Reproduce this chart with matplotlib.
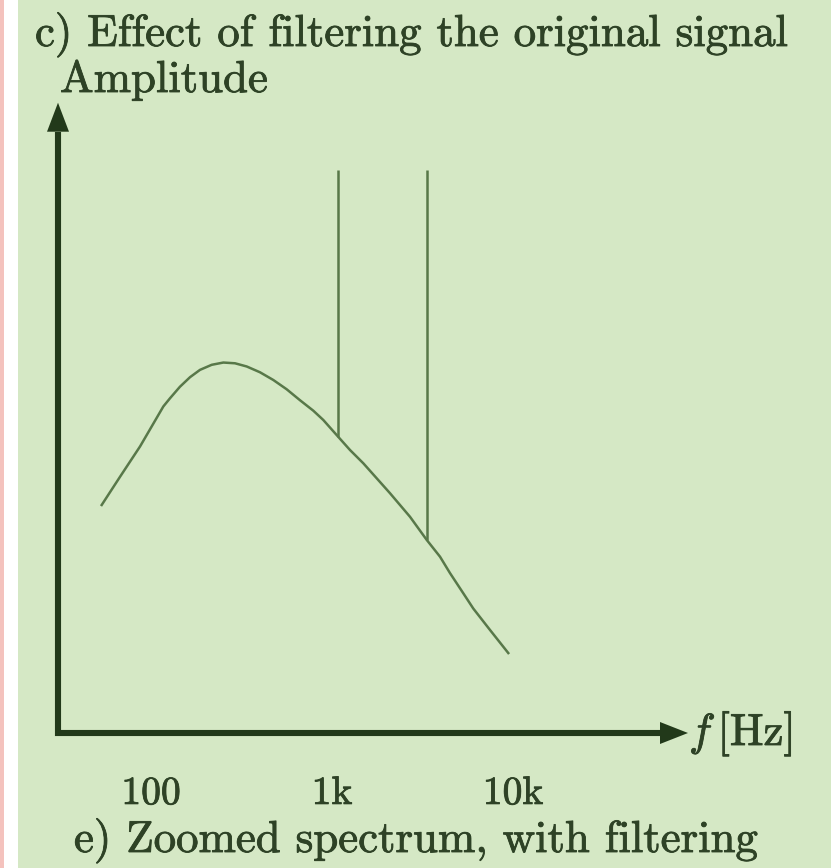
import numpy as np
import matplotlib
matplotlib.use('Agg')
import matplotlib.pyplot as plt
from matplotlib.patches import Polygon, Rectangle
import matplotlib.patheffects as pe

plt.rcParams['font.family'] = 'cmr10'
plt.rcParams['mathtext.fontset'] = 'cm'
plt.rcParams['axes.unicode_minus'] = False

# spectrum envelope (frequency in Hz, relative amplitude)
freq = [53.4, 67.4, 87.0, 117, 127.3, 144.5, 164.3, 186.5, 216.5, 251,
        291.1, 338, 400.2, 474, 561.9, 666, 788.2, 895, 1083, 1257, 1490,
        1766, 2090, 2698, 3336, 3952, 4487, 5315, 6036, 7464, 9418]
amp = [0.405, 0.455, 0.509, 0.580, 0.5945, 0.615, 0.632, 0.645, 0.654, 0.658,
       0.6567, 0.651, 0.6407, 0.627, 0.6105, 0.591, 0.5725, 0.556, 0.526,
       0.5027, 0.479, 0.4524, 0.426, 0.384, 0.343, 0.3131, 0.284, 0.2481,
       0.221, 0.183, 0.142]

# filtered spectral lines
line_freq = [1083, 3336]
line_base = [0.526, 0.343]
line_top = [1.0, 1.0]

tick_freq = [100, 1000, 10000]
tick_text = ['100', '1k', '10k']

W, H = 831, 868
bg = '#d5e8c5'
dark = '#22391a'
txt = '#2e4226'
curve = '#587849'

fig = plt.figure(figsize=(W / 100, H / 100), dpi=100, facecolor=bg)

# page edge on the left
fig.patches.append(Rectangle((0, 0), 4 / W, 1, transform=fig.transFigure,
                             facecolor='#f4c2bd', edgecolor='none'))
fig.patches.append(Rectangle((4 / W, 0), 14 / W, 1, transform=fig.transFigure,
                             facecolor='white', edgecolor='none'))

x0, x1 = 58, 688
y0, y1 = 733, 102.7
ax = fig.add_axes([x0 / W, (H - y0) / H, (x1 - x0) / W, (y0 - y1) / H])
ax.set_facecolor('none')
ax.set_xscale('log')
ax.set_xlim(10 ** (2 + (x0 - 151) / 181), 10 ** (2 + (x1 - 151) / 181))
ax.set_ylim(0, (y0 - y1) / 563)
for s in ax.spines.values():
    s.set_visible(False)

ax.plot(freq, amp, color=curve, lw=1.8, solid_joinstyle='round')
ax.vlines(line_freq, line_base, line_top, color=curve, lw=1.8)

thick = [pe.withStroke(linewidth=0.6, foreground=txt)]

ax.set_xticks(tick_freq)
ax.set_xticklabels(tick_text)
ax.xaxis.set_minor_locator(matplotlib.ticker.NullLocator())
ax.tick_params(axis='x', length=0, pad=31, labelsize=28.5, labelcolor=txt)
for t in ax.get_xticklabels():
    t.set_path_effects(thick)
ax.set_yticks([])

# axis arrows
aw, ah = x1 - x0, y0 - y1
hl_x, hl_y = 28 / aw, 29 / ah
hw_x, hw_y = 11 / aw, 11 / ah
ax.plot([0, 0, 1 - hl_x], [1 - hl_y, 0, 0], transform=ax.transAxes,
        clip_on=False, color=dark, lw=4.4, solid_joinstyle='miter',
        solid_capstyle='butt')
ax.add_patch(Polygon([(0, 1), (-hw_x, 1 - hl_y), (hw_x, 1 - hl_y)],
                     closed=True, transform=ax.transAxes, clip_on=False,
                     facecolor=dark, edgecolor='none'))
ax.add_patch(Polygon([(1, 0), (1 - hl_x, hw_y), (1 - hl_x, -hw_y)],
                     closed=True, transform=ax.transAxes, clip_on=False,
                     facecolor=dark, edgecolor='none'))

def put(x, y, s, size):
    fig.text(x / W, 1 - y / H, s, fontsize=size, color=txt,
             ha='left', va='baseline', path_effects=thick)

put(35, 46, 'c) Effect of filtering the original signal', 32.3)
put(60, 92, 'Amplitude', 32.3)
put(689, 745, r'$f\,[\mathrm{Hz}]$', 32.3)
put(74, 852, 'e) Zoomed spectrum, with filtering', 32.3)

fig.savefig('out.png', dpi=100, facecolor=bg)
